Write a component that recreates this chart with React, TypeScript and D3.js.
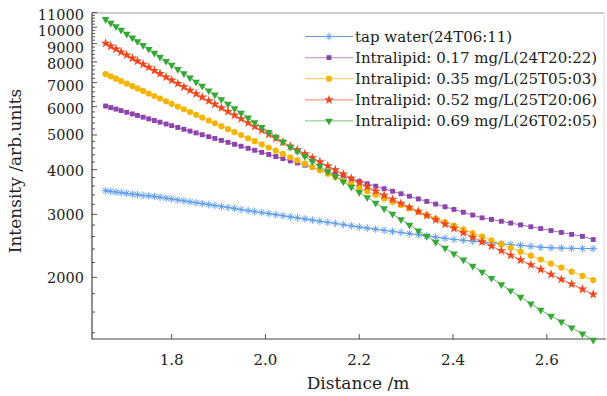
import React, { useEffect, useRef } from 'react';
import * as d3 from 'd3';

const distance = [1.659,1.670,1.681,1.692,1.704,1.716,1.727,1.739,1.751,1.763,1.775,1.788,1.800,1.813,1.826,1.839,1.852,1.865,1.879,1.892,1.906,1.920,1.934,1.948,1.963,1.977,1.992,2.007,2.022,2.037,2.053,2.068,2.084,2.100,2.116,2.133,2.149,2.166,2.183,2.200,2.217,2.235,2.253,2.271,2.289,2.307,2.326,2.344,2.363,2.383,2.402,2.422,2.442,2.462,2.482,2.503,2.523,2.544,2.566,2.587,2.609,2.631,2.653,2.676,2.699];

const tapWater = [3492,3478,3463,3449,3433,3417,3403,3388,3378,3366,3350,3330,3311,3291,3272,3252,3233,3214,3194,3175,3155,3135,3116,3095,3074,3055,3034,3014,2993,2974,2952,2933,2912,2891,2871,2849,2829,2807,2786,2765,2746,2727,2707,2688,2669,2650,2630,2612,2592,2571,2552,2539,2525,2511,2498,2484,2470,2457,2442,2428,2418,2415,2411,2408,2404];
const lipid017 = [6023,5964,5906,5848,5786,5724,5667,5607,5547,5487,5429,5366,5309,5247,5186,5126,5067,5008,4945,4889,4828,4768,4708,4650,4587,4530,4470,4410,4351,4293,4231,4175,4116,4058,3999,3939,3883,3825,3767,3710,3654,3595,3538,3481,3425,3370,3313,3260,3205,3149,3096,3041,2987,2933,2903,2869,2836,2803,2769,2737,2703,2670,2637,2604,2551];
const lipid035 = [7400,7290,7181,7074,6961,6849,6747,6638,6530,6424,6321,6210,6110,6003,5899,5795,5693,5594,5488,5392,5291,5190,5094,4997,4896,4804,4707,4612,4519,4429,4332,4247,4157,4070,3984,3895,3813,3727,3645,3563,3483,3401,3324,3254,3186,3119,3050,2987,2920,2852,2790,2724,2661,2599,2538,2476,2419,2360,2300,2243,2185,2130,2075,2019,1965];
const lipid052 = [9016,8851,8689,8528,8359,8193,8043,7881,7723,7570,7418,7258,7114,6960,6809,6662,6518,6377,6228,6094,5952,5814,5679,5547,5408,5283,5150,5024,4898,4777,4650,4540,4428,4316,4207,4095,3993,3887,3784,3683,3585,3484,3391,3304,3220,3139,3055,2977,2897,2816,2740,2663,2588,2515,2445,2372,2306,2237,2168,2104,2038,1975,1914,1853,1792];
const lipid069 = [10522,10283,10051,9822,9579,9344,9131,8904,8687,8471,8260,8040,7841,7631,7428,7229,7035,6847,6651,6473,6286,6105,5929,5760,5582,5421,5254,5092,4935,4784,4627,4499,4357,4221,4089,3954,3830,3703,3579,3460,3346,3229,3115,3007,2903,2803,2701,2607,2512,2416,2328,2239,2152,2070,1990,1910,1836,1763,1688,1621,1560,1503,1447,1391,1336];

const seriesNames = [
  'tap water(24T06:11)',
  'Intralipid: 0.17 mg/L(24T20:22)',
  'Intralipid: 0.35 mg/L(25T05:03)',
  'Intralipid: 0.52 mg/L(25T20:06)',
  'Intralipid: 0.69 mg/L(26T02:05)',
];
const seriesValues = [tapWater, lipid017, lipid035, lipid052, lipid069];
const markerColors = ['#5e9ff0', '#8e44ad', '#f7b400', '#f2461e', '#35a936'];
const lineColors = ['#4f8edc', '#a569c0', '#f5c030', '#f2643c', '#5cbc5c'];
const legendLineColors = ['#6a9ee0', '#c9a2da', '#f8d478', '#f79a7c', '#8fd08f'];
const markerKinds = ['asterisk', 'square', 'circle', 'star', 'triangleDown'];

const xTicks = [1.8, 2.0, 2.2, 2.4, 2.6];
const yMajorTicks = [2000, 3000, 4000, 5000, 6000, 7000, 8000, 9000, 10000, 11000];
const yLabelNudge = [0, 0, 1.5, 0, 2.5, 3, 2, 4, 3.5, 2];
const yMinorTicks = d3.range(1400, 11000, 200).filter((v) => v % 1000 !== 0);

const FONT = '"DejaVu Serif", serif';

function markerPath(kind: string): string {
  if (kind === 'asterisk') {
    const s = 3.8, a = 2.7;
    return `M${-s},0L${s},0M0,${-s}L0,${s}M${-a},${-a}L${a},${a}M${-a},${a}L${a},${-a}`;
  }
  if (kind === 'square') return d3.symbol(d3.symbolSquare, 24)() as string;
  if (kind === 'circle') return d3.symbol(d3.symbolCircle, 30)() as string;
  if (kind === 'star') return d3.symbol(d3.symbolStar, 30)() as string;
  return d3.symbol(d3.symbolTriangle, 26)() as string;
}

export default function App() {
  const ref = useRef<SVGSVGElement>(null);

  useEffect(() => {
    const svg = d3.select(ref.current);
    svg.selectAll('*').remove();

    const left = 92, right = 604, top = 13, bottom = 339;
    const x = d3.scaleLinear().domain([1.63, 2.722]).range([left, right]);
    const y = d3.scaleLog().domain([1345, 10960]).range([bottom, top]);

    // frame
    svg.append('line').attr('x1', left).attr('x2', right).attr('y1', top).attr('y2', top)
      .attr('stroke', '#9a9a9a').attr('stroke-width', 1);
    svg.append('line').attr('x1', right).attr('x2', right).attr('y1', top).attr('y2', bottom)
      .attr('stroke', '#d8d8d8').attr('stroke-width', 1);

    // y ticks
    const gy = svg.append('g');
    yMinorTicks.forEach((v) => {
      gy.append('line').attr('x1', left).attr('x2', left + 3)
        .attr('y1', y(v)).attr('y2', y(v)).attr('stroke', '#555').attr('stroke-width', 1);
    });
    yMajorTicks.forEach((v, i) => {
      gy.append('line').attr('x1', left).attr('x2', left + 5)
        .attr('y1', y(v)).attr('y2', y(v)).attr('stroke', '#555').attr('stroke-width', 1);
      gy.append('text').attr('x', 84).attr('y', y(v) + yLabelNudge[i]).attr('dy', '0.36em')
        .attr('text-anchor', 'end').attr('font-family', FONT).attr('font-size', 14.5)
        .attr('fill', '#222').text(String(v));
    });

    // x ticks
    const gx = svg.append('g');
    xTicks.forEach((v) => {
      gx.append('line').attr('x1', x(v)).attr('x2', x(v)).attr('y1', bottom).attr('y2', bottom - 5)
        .attr('stroke', '#555').attr('stroke-width', 1);
      gx.append('text').attr('x', x(v)).attr('y', 365).attr('text-anchor', 'middle')
        .attr('font-family', FONT).attr('font-size', 15).attr('fill', '#222').text(v.toFixed(1));
    });

    // axes lines
    svg.append('line').attr('x1', left).attr('x2', left).attr('y1', top).attr('y2', bottom + 0.5)
      .attr('stroke', '#444').attr('stroke-width', 1.2);
    svg.append('line').attr('x1', left).attr('x2', right + 2).attr('y1', bottom).attr('y2', bottom)
      .attr('stroke', '#444').attr('stroke-width', 1.2);

    // titles
    svg.append('text').attr('x', 358).attr('y', 389).attr('text-anchor', 'middle')
      .attr('font-family', FONT).attr('font-size', 17).attr('fill', '#222').text('Distance /m');
    svg.append('text').attr('transform', 'translate(21,171) rotate(-90)').attr('text-anchor', 'middle')
      .attr('font-family', FONT).attr('font-size', 17).attr('fill', '#222').text('Intensity /arb.units');

    // series
    const line = d3.line<number>().x((_, i) => x(distance[i])).y((d) => y(d));
    seriesValues.forEach((vals, si) => {
      const g = svg.append('g');
      g.append('path').attr('d', line(vals) as string).attr('fill', 'none')
        .attr('stroke', lineColors[si]).attr('stroke-width', 1);
      const kind = markerKinds[si];
      const p = markerPath(kind);
      vals.forEach((v, i) => {
        const m = g.append('path').attr('d', p)
          .attr('transform', `translate(${x(distance[i])},${y(v)})${kind === 'triangleDown' ? ' rotate(180)' : ''}`);
        if (kind === 'asterisk') m.attr('fill', 'none').attr('stroke', markerColors[si]).attr('stroke-width', 1);
        else m.attr('fill', markerColors[si]);
      });
    });

    // legend
    const lg = svg.append('g');
    seriesNames.forEach((name, si) => {
      const ly = 36.5 + si * 21.1;
      lg.append('line').attr('x1', 305).attr('x2', 353).attr('y1', ly).attr('y2', ly)
        .attr('stroke', legendLineColors[si]).attr('stroke-width', 1.2);
      const kind = markerKinds[si];
      const m = lg.append('path').attr('d', markerPath(kind))
        .attr('transform', `translate(329,${ly})${kind === 'triangleDown' ? ' rotate(180)' : ''}`);
      if (kind === 'asterisk') m.attr('fill', 'none').attr('stroke', markerColors[si]).attr('stroke-width', 1);
      else m.attr('fill', markerColors[si]);
      lg.append('text').attr('x', 355).attr('y', ly).attr('dy', '0.35em')
        .attr('font-family', FONT).attr('font-size', 15).attr('fill', '#222').text(name);
    });
  }, []);

  return (
    <svg ref={ref} width={607} height={396}
      style={{ position: 'absolute', left: 0, top: 0, background: '#fff' }} />
  );
}
